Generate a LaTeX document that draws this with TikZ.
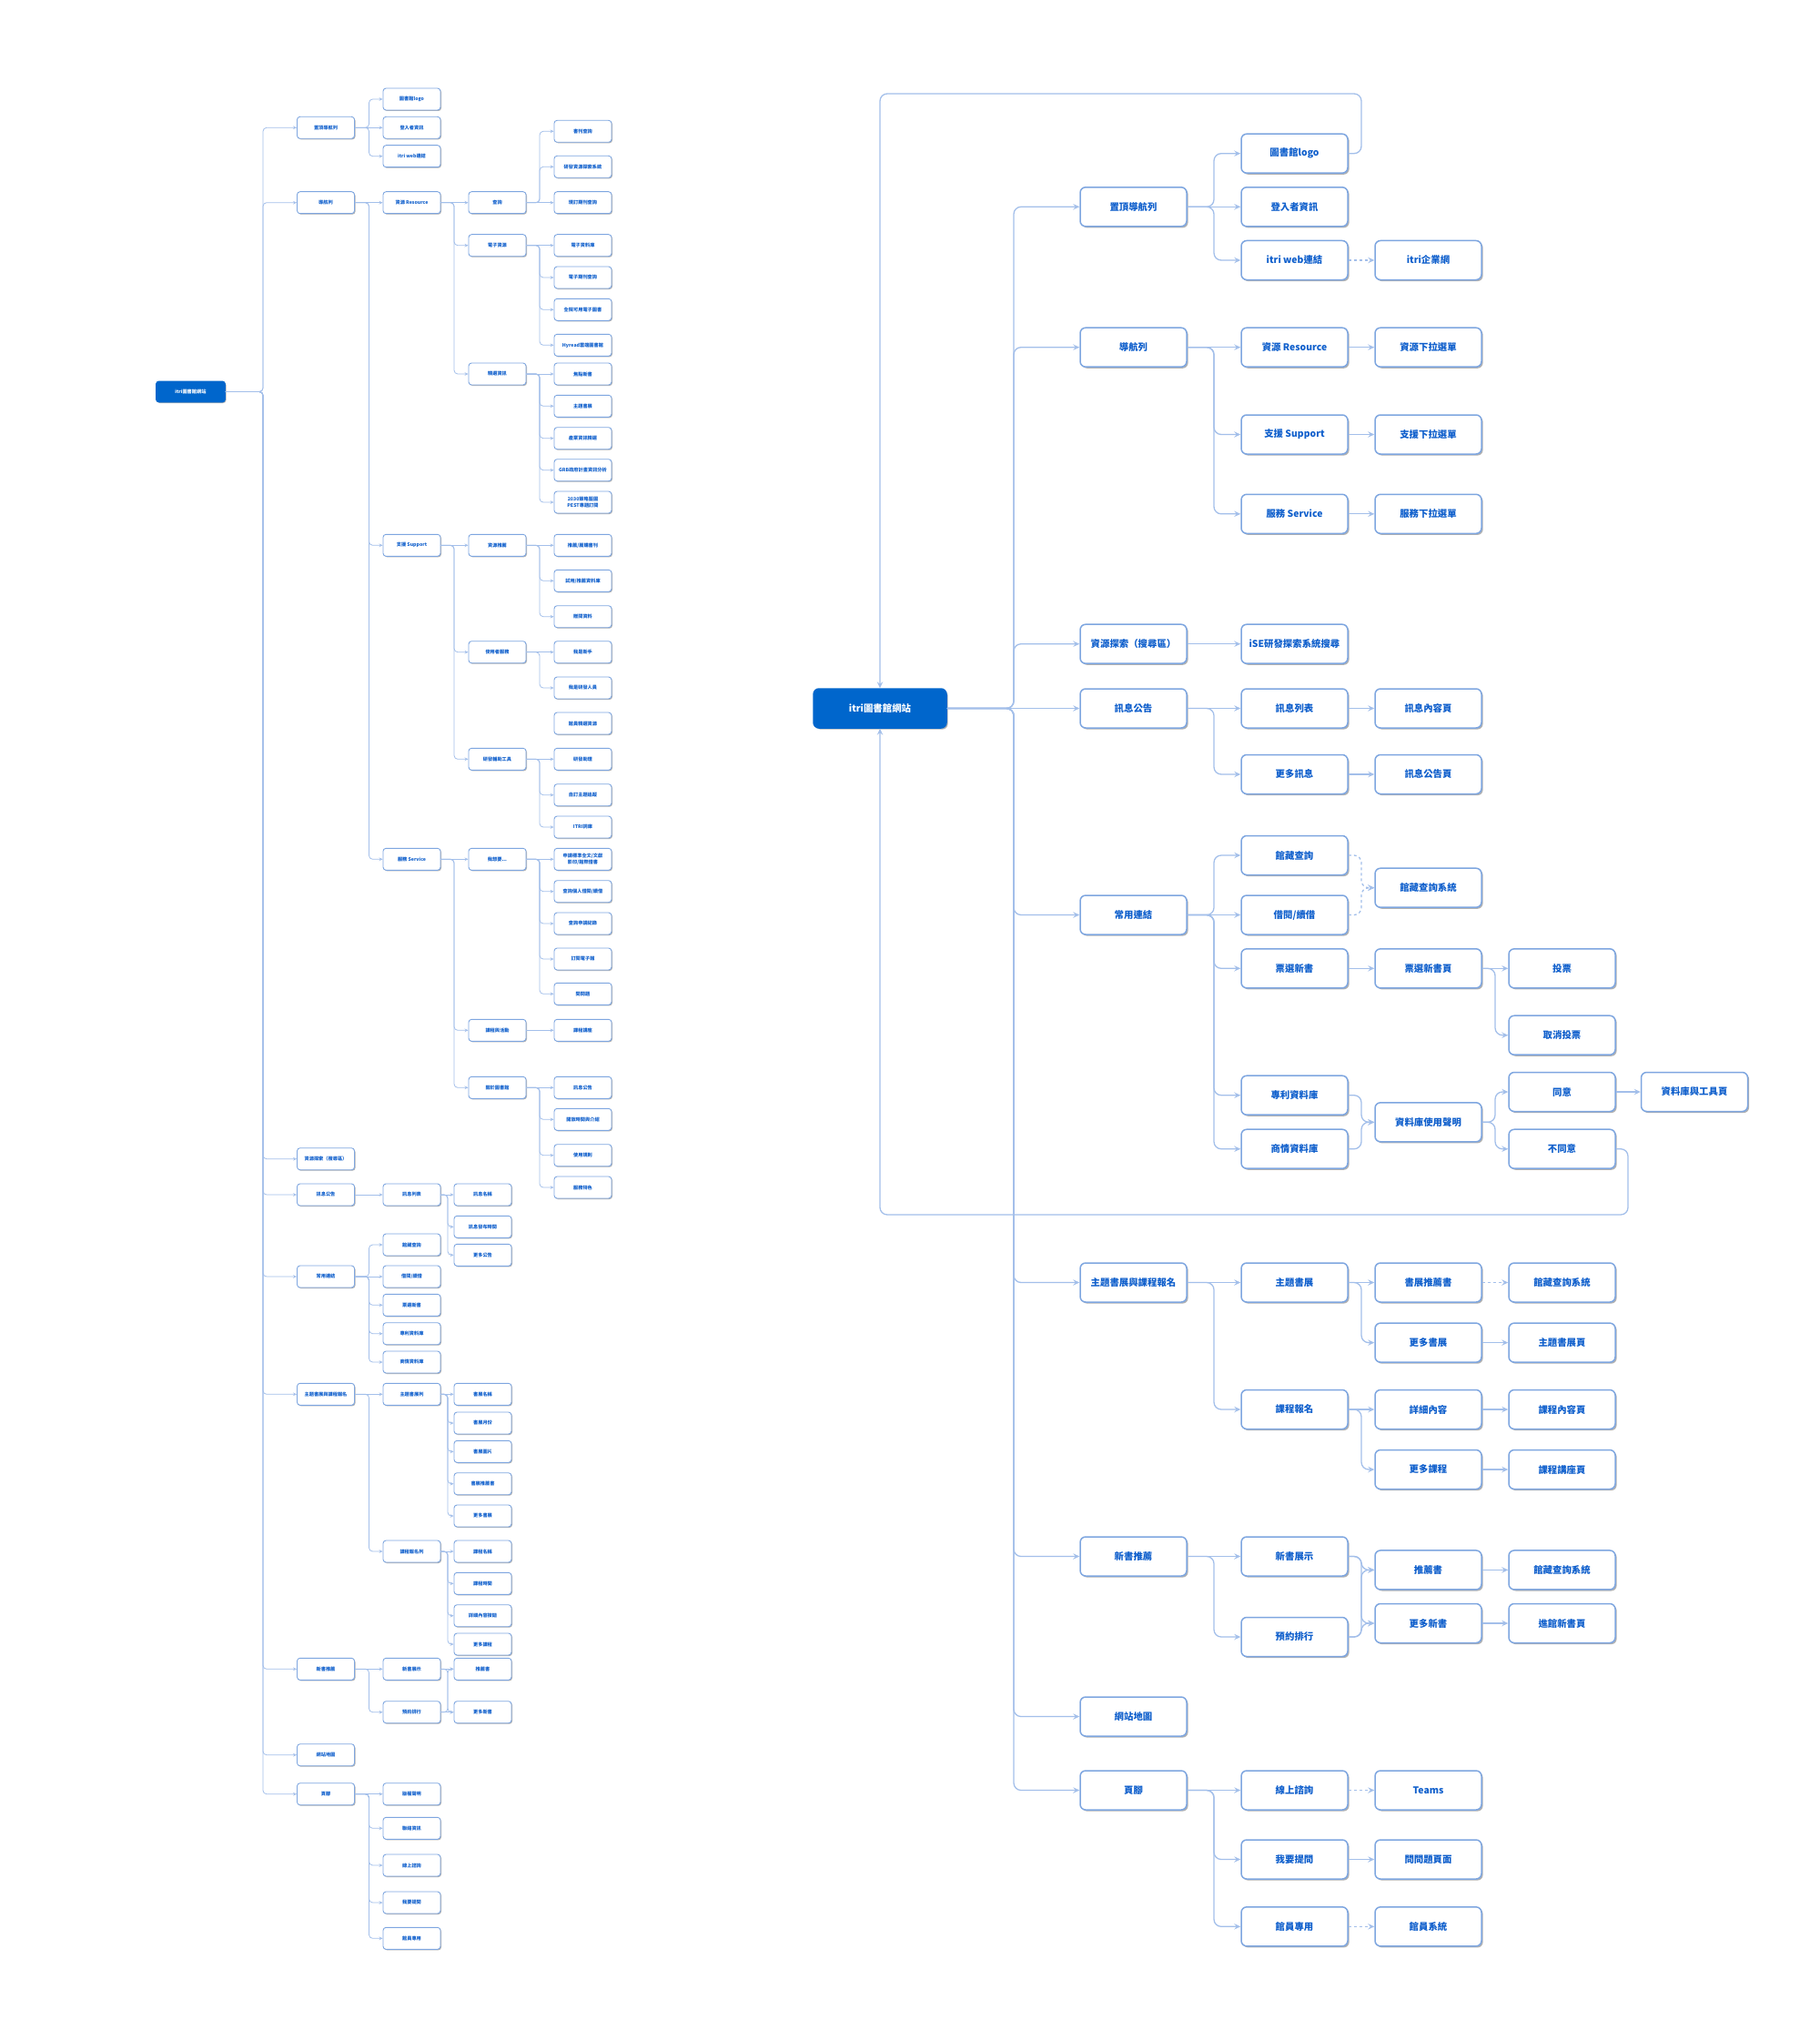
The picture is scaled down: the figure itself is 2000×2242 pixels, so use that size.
\documentclass[tikz,border=0pt]{standalone}
\usepackage{fontspec}
\newfontfamily\cjk{Noto Sans CJK TC}
\usetikzlibrary{arrows.meta,shadows,calc}
\definecolor{bd}{HTML}{7EA6E0}
\definecolor{lnc}{HTML}{A3BFEA}
\definecolor{tx}{HTML}{0F5FCC}
\definecolor{rootc}{HTML}{0066CC}
\newcommand\ek[4][lc]{\draw[#1] (#2.east) -- (#2.east -| #3) |- (#4.west);}
\newcommand\sk[3][lc]{\draw[#1] (#2.east) -- (#3.west);}
\tikzset{
 rbox/.style={draw=bd, line width=0.75pt, rounded corners=3pt, fill=white, minimum width=58.5pt, minimum height=21.5pt, inner sep=0pt, text=tx, align=center, font=\cjk\bfseries\fontsize{5.2pt}{6.2pt}\selectfont, drop shadow={shadow xshift=0.8pt, shadow yshift=-0.8pt, opacity=0.3, fill=black}},
 rroot/.style={rbox, fill=rootc, draw=rootc, text=white, minimum width=73pt},
 lbox/.style={draw=bd, line width=0.45pt, rounded corners=1.6pt, fill=white, minimum width=31.5pt, minimum height=12pt, inner sep=0pt, text=tx, align=center, font=\cjk\bfseries\fontsize{2.6pt}{3.1pt}\selectfont, drop shadow={shadow xshift=0.5pt, shadow yshift=-0.5pt, opacity=0.3, fill=black}},
 lroot/.style={lbox, fill=rootc, draw=rootc, text=white, minimum width=38pt, minimum height=11.5pt},
 rc/.style={draw=lnc, line width=0.65pt, rounded corners=4pt, -{Stealth[length=3.5pt,width=3.2pt,inset=1.3pt]}},
 rdot/.style={rc, dash pattern=on 1.5pt off 1.5pt},
 lc/.style={draw=lnc, line width=0.4pt, rounded corners=2pt, -{Stealth[length=2pt,width=1.8pt,inset=0.7pt]}},
}
\begin{document}
\begin{tikzpicture}[x=0.5pt,y=-0.5pt]
\fill[white] (0,0) rectangle (2000,2242);
\path[use as bounding box] (0,0) rectangle (2000,2242);
% bus coordinates
\coordinate (lb0) at (289,0);
\coordinate (lb1) at (405.5,0);
\coordinate (lb2) at (499,0);
\coordinate (lb3) at (593,0);
\coordinate (lb2b) at (492,0);
\coordinate (rb0) at (1114,0);
\coordinate (rb1) at (1334,0);
\coordinate (rb2) at (1496,0);
\coordinate (rb3) at (1643,0);
% ================= LEFT TREE =================
\node[lroot] (lroot) at (209.5,430.5) {itri圖書館網站};
\node[lbox] (lA) at (358,140.3) {置頂導航列};
\node[lbox] (lB) at (358,222.7) {導航列};
\node[lbox] (lC) at (358,1273.7) {資源探索（搜尋區）};
\node[lbox] (lD) at (358,1313) {訊息公告};
\node[lbox] (lE) at (358,1403) {常用連結};
\node[lbox] (lF) at (358,1532.3) {主題書展與課程報名};
\node[lbox] (lG) at (358,1834.3) {新書推薦};
\node[lbox] (lH) at (358,1928.7) {網站地圖};
\node[lbox] (lI) at (358,1971.7) {頁腳};
% L2
\node[lbox] (lA1) at (452.5,109) {圖書館logo};
\node[lbox] (lA2) at (452.5,140.3) {登入者資訊};
\node[lbox] (lA3) at (452.5,171.7) {itri web連結};
\node[lbox] (lB1) at (452.5,222.7) {資源 Resource};
\node[lbox] (lB2) at (452.5,599.3) {支援 Support};
\node[lbox] (lB3) at (452.5,944.3) {服務 Service};
\node[lbox] (lD1) at (452.5,1313) {訊息列表};
\node[lbox] (lE1) at (452.5,1368) {館藏查詢};
\node[lbox] (lE2) at (452.5,1403) {借閱/續借};
\node[lbox] (lE3) at (452.5,1434.3) {票選新書};
\node[lbox] (lE4) at (452.5,1465.7) {專利資料庫};
\node[lbox] (lE5) at (452.5,1497) {商情資料庫};
\node[lbox] (lF1) at (452.5,1532.3) {主題書展列};
\node[lbox] (lF2) at (452.5,1705) {課程報名列};
\node[lbox] (lG1) at (452.5,1834.3) {新書展示};
\node[lbox] (lG2) at (452.5,1881.7) {預約排行};
\node[lbox] (lI1) at (452.5,1971.7) {版權聲明};
\node[lbox] (lI2) at (452.5,2009.3) {聯絡資訊};
\node[lbox] (lI3) at (452.5,2050) {線上諮詢};
\node[lbox] (lI4) at (452.5,2091) {我要提問};
\node[lbox] (lI5) at (452.5,2130.3) {館員專用};
% L3 upper
\node[lbox] (lB11) at (546.5,222.7) {查詢};
\node[lbox] (lB12) at (546.5,269.7) {電子資源};
\node[lbox] (lB13) at (546.5,411) {精選資訊};
\node[lbox] (lB21) at (546.5,599.3) {資源推薦};
\node[lbox] (lB22) at (546.5,716.7) {使用者服務};
\node[lbox] (lB23) at (546.5,834.3) {研發輔助工具};
\node[lbox] (lB31) at (546.5,944.3) {我想要...};
\node[lbox] (lB32) at (546.5,1132.3) {課程與活動};
\node[lbox] (lB33) at (546.5,1195.3) {關於圖書館};
% L4
\node[lbox] (lB111) at (640.5,144.3) {書刊查詢};
\node[lbox] (lB112) at (640.5,183.3) {研發資源探索系統};
\node[lbox] (lB113) at (640.5,222.7) {現訂期刊查詢};
\node[lbox] (lB121) at (640.5,269.7) {電子資料庫};
\node[lbox] (lB122) at (640.5,305) {電子期刊查詢};
\node[lbox] (lB123) at (640.5,340.3) {全院可用電子圖書};
\node[lbox] (lB124) at (640.5,379.3) {Hyread雲端圖書館};
\node[lbox] (lB131) at (640.5,411) {焦點新書};
\node[lbox] (lB132) at (640.5,446.3) {主題書展};
\node[lbox] (lB133) at (640.5,481.7) {產業資訊精選};
\node[lbox] (lB134) at (640.5,516.7) {GRB政府計畫資訊分析};
\node[lbox] (lB135) at (640.5,552) {2030策略藍圖\\PEST專題訂閱};
\node[lbox] (lB211) at (640.5,599.3) {推薦/薦購書刊};
\node[lbox] (lB212) at (640.5,638.3) {試用/推薦資料庫};
\node[lbox] (lB213) at (640.5,677.7) {贈閱資料};
\node[lbox] (lB221) at (640.5,716.7) {我是新手};
\node[lbox] (lB222) at (640.5,756) {我是研發人員};
\node[lbox] (lX) at (640.5,795) {館員精選資源};
\node[lbox] (lB231) at (640.5,834.3) {研發助理};
\node[lbox] (lB232) at (640.5,873.7) {自訂主題追蹤};
\node[lbox] (lB233) at (640.5,909) {ITRI詞庫};
\node[lbox] (lB311) at (640.5,944.3) {申請標準全文/文獻\\影印/館際借書};
\node[lbox] (lB312) at (640.5,979.7) {查詢個人借閱/續借};
\node[lbox] (lB313) at (640.5,1015) {查詢申請紀錄};
\node[lbox] (lB314) at (640.5,1054) {訂閱電子報};
\node[lbox] (lB315) at (640.5,1092.3) {問問題};
\node[lbox] (lB321) at (640.5,1132.3) {課程講座};
\node[lbox] (lB331) at (640.5,1195.3) {訊息公告};
\node[lbox] (lB332) at (640.5,1230.3) {開放時間與介紹};
\node[lbox] (lB333) at (640.5,1269.7) {使用規則};
\node[lbox] (lB334) at (640.5,1305) {服務特色};
% L3 lower
\node[lbox] (lD11) at (530.5,1313) {訊息名稱};
\node[lbox] (lD12) at (530.5,1348.3) {訊息發布時間};
\node[lbox] (lD13) at (530.5,1379.3) {更多公告};
\node[lbox] (lF11) at (530.5,1532.3) {書展名稱};
\node[lbox] (lF12) at (530.5,1564) {書展月份};
\node[lbox] (lF13) at (530.5,1595.3) {書展圖片};
\node[lbox] (lF14) at (530.5,1630.7) {書展推薦書};
\node[lbox] (lF15) at (530.5,1666) {更多書展};
\node[lbox] (lF21) at (530.5,1705) {課程名稱};
\node[lbox] (lF22) at (530.5,1740.3) {課程時間};
\node[lbox] (lF23) at (530.5,1775.7) {詳細內容按鈕};
\node[lbox] (lF24) at (530.5,1807) {更多課程};
\node[lbox] (lG11) at (530.5,1834.3) {推薦書};
\node[lbox] (lG12) at (530.5,1881.7) {更多新書};
% left edges
\foreach \c in {lA,lB,lC,lD,lE,lF,lG,lH,lI} {\ek{lroot}{lb0}{\c}}
\ek{lA}{lb1}{lA1} \sk{lA}{lA2} \ek{lA}{lb1}{lA3}
\sk{lB}{lB1} \ek{lB}{lb1}{lB2} \ek{lB}{lb1}{lB3}
\sk{lB1}{lB11} \ek{lB1}{lb2}{lB12} \ek{lB1}{lb2}{lB13}
\sk{lB2}{lB21} \ek{lB2}{lb2}{lB22} \ek{lB2}{lb2}{lB23}
\sk{lB3}{lB31} \ek{lB3}{lb2}{lB32} \ek{lB3}{lb2}{lB33}
\ek{lB11}{lb3}{lB111} \ek{lB11}{lb3}{lB112} \sk{lB11}{lB113}
\sk{lB12}{lB121} \ek{lB12}{lb3}{lB122} \ek{lB12}{lb3}{lB123} \ek{lB12}{lb3}{lB124}
\sk{lB13}{lB131} \ek{lB13}{lb3}{lB132} \ek{lB13}{lb3}{lB133} \ek{lB13}{lb3}{lB134} \ek{lB13}{lb3}{lB135}
\sk{lB21}{lB211} \ek{lB21}{lb3}{lB212} \ek{lB21}{lb3}{lB213}
\sk{lB22}{lB221} \ek{lB22}{lb3}{lB222}
\sk{lB23}{lB231} \ek{lB23}{lb3}{lB232} \ek{lB23}{lb3}{lB233}
\sk{lB31}{lB311} \ek{lB31}{lb3}{lB312} \ek{lB31}{lb3}{lB313} \ek{lB31}{lb3}{lB314} \ek{lB31}{lb3}{lB315}
\sk{lB32}{lB321}
\sk{lB33}{lB331} \ek{lB33}{lb3}{lB332} \ek{lB33}{lb3}{lB333} \ek{lB33}{lb3}{lB334}
\sk{lD}{lD1}
\sk{lD1}{lD11} \ek{lD1}{lb2b}{lD12} \ek{lD1}{lb2b}{lD13}
\ek{lE}{lb1}{lE1} \sk{lE}{lE2} \ek{lE}{lb1}{lE3} \ek{lE}{lb1}{lE4} \ek{lE}{lb1}{lE5}
\sk{lF}{lF1} \ek{lF}{lb1}{lF2}
\sk{lF1}{lF11} \ek{lF1}{lb2b}{lF12} \ek{lF1}{lb2b}{lF13} \ek{lF1}{lb2b}{lF14} \ek{lF1}{lb2b}{lF15}
\sk{lF2}{lF21} \ek{lF2}{lb2b}{lF22} \ek{lF2}{lb2b}{lF23} \ek{lF2}{lb2b}{lF24}
\sk{lG}{lG1} \ek{lG}{lb1}{lG2}
\sk{lG1}{lG11} \ek{lG1}{lb2b}{lG12} \ek{lG2}{lb2b}{lG11} \sk{lG2}{lG12}
\sk{lI}{lI1} \ek{lI}{lb1}{lI2} \ek{lI}{lb1}{lI3} \ek{lI}{lb1}{lI4} \ek{lI}{lb1}{lI5}
% ================= RIGHT TREE =================
\node[rroot] (rroot) at (967,778.5) {itri圖書館網站};
\node[rbox] (rA) at (1245.5,227.3) {置頂導航列};
\node[rbox] (rB) at (1245.5,381.7) {導航列};
\node[rbox] (rC) at (1245.5,707.7) {資源探索（搜尋區）};
\node[rbox] (rD) at (1245.5,778.5) {訊息公告};
\node[rbox] (rE) at (1245.5,1005.5) {常用連結};
\node[rbox] (rF) at (1245.5,1409.5) {主題書展與課程報名};
\node[rbox] (rG) at (1245.5,1710.5) {新書推薦};
\node[rbox] (rH) at (1245.5,1886.5) {網站地圖};
\node[rbox] (rI) at (1245.5,1967.5) {頁腳};
% R2
\node[rbox] (rA1) at (1422.5,168.7) {圖書館logo};
\node[rbox] (rA2) at (1422.5,227.3) {登入者資訊};
\node[rbox] (rA3) at (1422.5,286) {itri web連結};
\node[rbox] (rB1) at (1422.5,381.7) {資源 Resource};
\node[rbox] (rB2) at (1422.5,477.5) {支援 Support};
\node[rbox] (rB3) at (1422.5,564.8) {服務 Service};
\node[rbox] (rC1) at (1422.5,707.7) {iSE研發探索系統搜尋};
\node[rbox] (rD1) at (1422.5,778.5) {訊息列表};
\node[rbox] (rD2) at (1422.5,851) {更多訊息};
\node[rbox] (rE1) at (1422.5,940) {館藏查詢};
\node[rbox] (rE2) at (1422.5,1005.5) {借閱/續借};
\node[rbox] (rE3) at (1422.5,1064.3) {票選新書};
\node[rbox] (rE4) at (1422.5,1203.7) {專利資料庫};
\node[rbox] (rE5) at (1422.5,1262.7) {商情資料庫};
\node[rbox] (rF1) at (1422.5,1409.5) {主題書展};
\node[rbox] (rF2) at (1422.5,1549) {課程報名};
\node[rbox] (rG1) at (1422.5,1710.5) {新書展示};
\node[rbox] (rG2) at (1422.5,1799) {預約排行};
\node[rbox] (rI1) at (1422.5,1967.5) {線上諮詢};
\node[rbox] (rI2) at (1422.5,2043.5) {我要提問};
\node[rbox] (rI3) at (1422.5,2117.3) {館員專用};
% R3
\node[rbox] (rA31) at (1569.5,286) {itri企業網};
\node[rbox] (rB11) at (1569.5,381.7) {資源下拉選單};
\node[rbox] (rB21) at (1569.5,477.5) {支援下拉選單};
\node[rbox] (rB31) at (1569.5,564.8) {服務下拉選單};
\node[rbox] (rD11) at (1569.5,778.5) {訊息內容頁};
\node[rbox] (rD21) at (1569.5,851) {訊息公告頁};
\node[rbox] (rE12) at (1569.5,975.7) {館藏查詢系統};
\node[rbox] (rE31) at (1569.5,1064.3) {票選新書頁};
\node[rbox] (rE41) at (1569.5,1233.3) {資料庫使用聲明};
\node[rbox] (rF11) at (1569.5,1409.5) {書展推薦書};
\node[rbox] (rF12) at (1569.5,1475.6) {更多書展};
\node[rbox] (rF21) at (1569.5,1549) {詳細內容};
\node[rbox] (rF22) at (1569.5,1615) {更多課程};
\node[rbox] (rG11) at (1569.5,1725.4) {推薦書};
\node[rbox] (rG12) at (1569.5,1784) {更多新書};
\node[rbox] (rI11) at (1569.5,1967.5) {Teams};
\node[rbox] (rI21) at (1569.5,2043.5) {問問題頁面};
\node[rbox] (rI31) at (1569.5,2117.3) {館員系統};
% R4
\node[rbox] (rE311) at (1716.5,1064.3) {投票};
\node[rbox] (rE312) at (1716.5,1137.7) {取消投票};
\node[rbox] (rE411) at (1716.5,1200) {同意};
\node[rbox] (rE412) at (1716.5,1262.7) {不同意};
\node[rbox] (rF111) at (1716.5,1409.5) {館藏查詢系統};
\node[rbox] (rF121) at (1716.5,1475.6) {主題書展頁};
\node[rbox] (rF211) at (1716.5,1549) {課程內容頁};
\node[rbox] (rF221) at (1716.5,1615) {課程講座頁};
\node[rbox] (rG111) at (1716.5,1725.4) {館藏查詢系統};
\node[rbox] (rG121) at (1716.5,1784) {進館新書頁};
% R5
\node[rbox] (rE4111) at (1862,1200) {資料庫與工具頁};
% right edges
\foreach \c in {rA,rB,rC,rE,rF,rG,rH,rI} {\ek[rc]{rroot}{rb0}{\c}}
\sk[rc]{rroot}{rD}
\ek[rc]{rA}{rb1}{rA1} \sk[rc]{rA}{rA2} \ek[rc]{rA}{rb1}{rA3}
\sk[rdot]{rA3}{rA31}
\sk[rc]{rB}{rB1} \ek[rc]{rB}{rb1}{rB2} \ek[rc]{rB}{rb1}{rB3}
\sk[rc]{rB1}{rB11} \sk[rc]{rB2}{rB21} \sk[rc]{rB3}{rB31}
\sk[rc]{rC}{rC1}
\sk[rc]{rD}{rD1} \ek[rc]{rD}{rb1}{rD2}
\sk[rc]{rD1}{rD11} \sk[rc]{rD2}{rD21}
\ek[rc]{rE}{rb1}{rE1} \sk[rc]{rE}{rE2} \ek[rc]{rE}{rb1}{rE3} \ek[rc]{rE}{rb1}{rE4} \ek[rc]{rE}{rb1}{rE5}
\ek[rdot]{rE1}{rb2}{rE12} \ek[rdot]{rE2}{rb2}{rE12}
\sk[rc]{rE3}{rE31}
\sk[rc]{rE31}{rE311} \ek[rc]{rE31}{rb3}{rE312}
\ek[rc]{rE4}{rb2}{rE41} \ek[rc]{rE5}{rb2}{rE41}
\ek[rc]{rE41}{rb3}{rE411} \ek[rc]{rE41}{rb3}{rE412}
\sk[rc]{rE411}{rE4111}
\sk[rc]{rF}{rF1} \ek[rc]{rF}{rb1}{rF2}
\sk[rc]{rF1}{rF11} \ek[rc]{rF1}{rb2}{rF12}
\sk[rdot]{rF11}{rF111} \sk[rc]{rF12}{rF121}
\sk[rc]{rF2}{rF21} \ek[rc]{rF2}{rb2}{rF22}
\sk[rc]{rF21}{rF211} \sk[rc]{rF22}{rF221}
\sk[rc]{rG}{rG1} \ek[rc]{rG}{rb1}{rG2}
\ek[rc]{rG1}{rb2}{rG11} \ek[rc]{rG1}{rb2}{rG12}
\ek[rc]{rG2}{rb2}{rG11} \ek[rc]{rG2}{rb2}{rG12}
\sk[rc]{rG11}{rG111} \sk[rc]{rG12}{rG121}
\sk[rc]{rI}{rI1} \ek[rc]{rI}{rb1}{rI2} \ek[rc]{rI}{rb1}{rI3}
\sk[rdot]{rI1}{rI11} \sk[rc]{rI2}{rI21} \sk[rdot]{rI3}{rI31}
% loops
\coordinate (tl1) at (1496,103);
\coordinate (bl1) at (1789,1335);
\draw[rc] (rA1.east) -| (tl1) -| (rroot.north);
\draw[rc] (rE412.east) -| (bl1) -| (rroot.south);
\end{tikzpicture}
\end{document}
